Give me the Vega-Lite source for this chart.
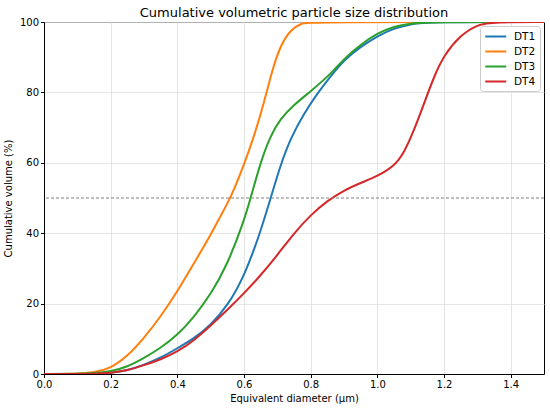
{
  "$schema": "https://vega.github.io/schema/vega-lite/v6.json",
  "width": 500,
  "height": 352,
  "autosize": "none",
  "padding": {"left": 44, "top": 22, "right": 6, "bottom": 36},
  "title": {
    "text": "Cumulative volumetric particle size distribution",
    "fontSize": 13,
    "fontWeight": "normal",
    "font": "DejaVu Sans",
    "color": "black",
    "offset": -3
  },
  "datasets": {
    "psd": [
      {"series": "DT1", "d": 0, "v": 0}, {"series": "DT1", "d": 0.1, "v": 0}, {"series": "DT1", "d": 0.15, "v": 0.05},
      {"series": "DT1", "d": 0.2, "v": 0.3}, {"series": "DT1", "d": 0.25, "v": 1}, {"series": "DT1", "d": 0.3, "v": 2.6},
      {"series": "DT1", "d": 0.35, "v": 4.6}, {"series": "DT1", "d": 0.4, "v": 7.3}, {"series": "DT1", "d": 0.45, "v": 10.1},
      {"series": "DT1", "d": 0.5, "v": 13.9}, {"series": "DT1", "d": 0.55, "v": 19.3}, {"series": "DT1", "d": 0.6, "v": 27.5},
      {"series": "DT1", "d": 0.65, "v": 40.5}, {"series": "DT1", "d": 0.68, "v": 50}, {"series": "DT1", "d": 0.71, "v": 59.5},
      {"series": "DT1", "d": 0.74, "v": 67}, {"series": "DT1", "d": 0.78, "v": 74}, {"series": "DT1", "d": 0.82, "v": 79.7},
      {"series": "DT1", "d": 0.86, "v": 84.6}, {"series": "DT1", "d": 0.9, "v": 89.2}, {"series": "DT1", "d": 0.95, "v": 93},
      {"series": "DT1", "d": 1.0, "v": 96}, {"series": "DT1", "d": 1.05, "v": 98.2}, {"series": "DT1", "d": 1.1, "v": 99.4},
      {"series": "DT1", "d": 1.15, "v": 100}, {"series": "DT1", "d": 1.5, "v": 100},

      {"series": "DT2", "d": 0, "v": 0}, {"series": "DT2", "d": 0.1, "v": 0.05}, {"series": "DT2", "d": 0.15, "v": 0.4},
      {"series": "DT2", "d": 0.2, "v": 1.6}, {"series": "DT2", "d": 0.25, "v": 5}, {"series": "DT2", "d": 0.3, "v": 10.2},
      {"series": "DT2", "d": 0.35, "v": 16.3}, {"series": "DT2", "d": 0.4, "v": 23.4}, {"series": "DT2", "d": 0.45, "v": 31.5},
      {"series": "DT2", "d": 0.5, "v": 39.5}, {"series": "DT2", "d": 0.53, "v": 45}, {"series": "DT2", "d": 0.56, "v": 50},
      {"series": "DT2", "d": 0.6, "v": 59.4}, {"series": "DT2", "d": 0.63, "v": 67.5}, {"series": "DT2", "d": 0.66, "v": 77},
      {"series": "DT2", "d": 0.685, "v": 86.5}, {"series": "DT2", "d": 0.71, "v": 93.5}, {"series": "DT2", "d": 0.74, "v": 97.8},
      {"series": "DT2", "d": 0.77, "v": 99.6}, {"series": "DT2", "d": 0.8, "v": 100}, {"series": "DT2", "d": 1.5, "v": 100},

      {"series": "DT3", "d": 0, "v": 0}, {"series": "DT3", "d": 0.1, "v": 0.05}, {"series": "DT3", "d": 0.15, "v": 0.2},
      {"series": "DT3", "d": 0.2, "v": 0.7}, {"series": "DT3", "d": 0.25, "v": 2}, {"series": "DT3", "d": 0.3, "v": 4.5},
      {"series": "DT3", "d": 0.35, "v": 7.4}, {"series": "DT3", "d": 0.4, "v": 11}, {"series": "DT3", "d": 0.45, "v": 16.2},
      {"series": "DT3", "d": 0.5, "v": 22.6}, {"series": "DT3", "d": 0.55, "v": 31}, {"series": "DT3", "d": 0.6, "v": 43.5},
      {"series": "DT3", "d": 0.62, "v": 50}, {"series": "DT3", "d": 0.65, "v": 60.3}, {"series": "DT3", "d": 0.68, "v": 67.8},
      {"series": "DT3", "d": 0.71, "v": 72.6}, {"series": "DT3", "d": 0.75, "v": 76.5}, {"series": "DT3", "d": 0.8, "v": 80.3},
      {"series": "DT3", "d": 0.86, "v": 85.2}, {"series": "DT3", "d": 0.9, "v": 89.6}, {"series": "DT3", "d": 0.95, "v": 93.6},
      {"series": "DT3", "d": 1.0, "v": 96.8}, {"series": "DT3", "d": 1.05, "v": 98.8}, {"series": "DT3", "d": 1.1, "v": 99.6},
      {"series": "DT3", "d": 1.15, "v": 100}, {"series": "DT3", "d": 1.5, "v": 100},

      {"series": "DT4", "d": 0, "v": 0}, {"series": "DT4", "d": 0.1, "v": 0}, {"series": "DT4", "d": 0.15, "v": 0.05},
      {"series": "DT4", "d": 0.2, "v": 0.3}, {"series": "DT4", "d": 0.25, "v": 1}, {"series": "DT4", "d": 0.3, "v": 2.5},
      {"series": "DT4", "d": 0.35, "v": 4.1}, {"series": "DT4", "d": 0.4, "v": 6.3}, {"series": "DT4", "d": 0.45, "v": 9.5},
      {"series": "DT4", "d": 0.5, "v": 13.7}, {"series": "DT4", "d": 0.55, "v": 18.2}, {"series": "DT4", "d": 0.6, "v": 22.9},
      {"series": "DT4", "d": 0.65, "v": 28}, {"series": "DT4", "d": 0.7, "v": 33.8}, {"series": "DT4", "d": 0.75, "v": 40},
      {"series": "DT4", "d": 0.8, "v": 45.2}, {"series": "DT4", "d": 0.85, "v": 49.2}, {"series": "DT4", "d": 0.9, "v": 52.2},
      {"series": "DT4", "d": 0.95, "v": 54.3}, {"series": "DT4", "d": 1.0, "v": 56.2}, {"series": "DT4", "d": 1.05, "v": 59},
      {"series": "DT4", "d": 1.08, "v": 62.8}, {"series": "DT4", "d": 1.11, "v": 69.2}, {"series": "DT4", "d": 1.14, "v": 76.8},
      {"series": "DT4", "d": 1.17, "v": 84.5}, {"series": "DT4", "d": 1.2, "v": 90.6}, {"series": "DT4", "d": 1.25, "v": 96.3},
      {"series": "DT4", "d": 1.3, "v": 99.3}, {"series": "DT4", "d": 1.35, "v": 100}, {"series": "DT4", "d": 1.5, "v": 100}
    ],
    "ref": [{"level": 50}]
  },
  "layer": [
    {
      "data": {"name": "psd"},
      "mark": {"type": "line", "interpolate": "basis", "strokeWidth": 2, "clip": true},
      "encoding": {
        "x": {
          "field": "d",
          "type": "quantitative",
          "scale": {"domain": [0, 1.5], "nice": false},
          "axis": {"values": [0, 0.2, 0.4, 0.6, 0.8, 1.0, 1.2, 1.4], "format": ".1f", "grid": true},
          "title": "Equivalent diameter (μm)"
        },
        "y": {
          "field": "v",
          "type": "quantitative",
          "scale": {"domain": [0, 100], "nice": false},
          "axis": {"values": [0, 20, 40, 60, 80, 100], "grid": true},
          "title": "Cumulative volume (%)"
        },
        "color": {
          "field": "series",
          "type": "nominal",
          "scale": {"domain": ["DT1", "DT2", "DT3", "DT4"], "range": ["#1f77b4", "#ff7f0e", "#2ca02c", "#d62728"]},
          "legend": {"title": null}
        }
      }
    },
    {
      "data": {"name": "ref"},
      "mark": {"type": "rule", "color": "#808080", "strokeDash": [3, 2], "strokeWidth": 1},
      "encoding": {"y": {"field": "level", "type": "quantitative"}}
    }
  ],
  "config": {
    "font": "DejaVu Sans",
    "view": {"stroke": "black", "strokeWidth": 1},
    "axis": {
      "grid": true,
      "labelFontSize": 10,
      "titleFontSize": 10,
      "titleFontWeight": "normal",
      "labelColor": "black",
      "titleColor": "black",
      "domainColor": "black",
      "tickColor": "black",
      "tickSize": 3.5,
      "labelPadding": 2,
      "gridColor": "#dedede",
      "gridWidth": 0.8,
      "labelFlush": false
    },
    "axisX": {"titlePadding": 4},
    "axisY": {"titlePadding": 6},
    "legend": {
      "orient": "top-right",
      "offset": 4,
      "fillColor": "white",
      "strokeColor": "#cccccc",
      "cornerRadius": 3,
      "padding": 4,
      "symbolType": "M-1,0H3",
      "symbolStrokeWidth": 2,
      "symbolSize": 110,
      "symbolFillColor": "transparent",
      "labelFontSize": 10.5,
      "labelOffset": 17,
      "labelColor": "black",
      "rowPadding": 3
    }
  }
}
